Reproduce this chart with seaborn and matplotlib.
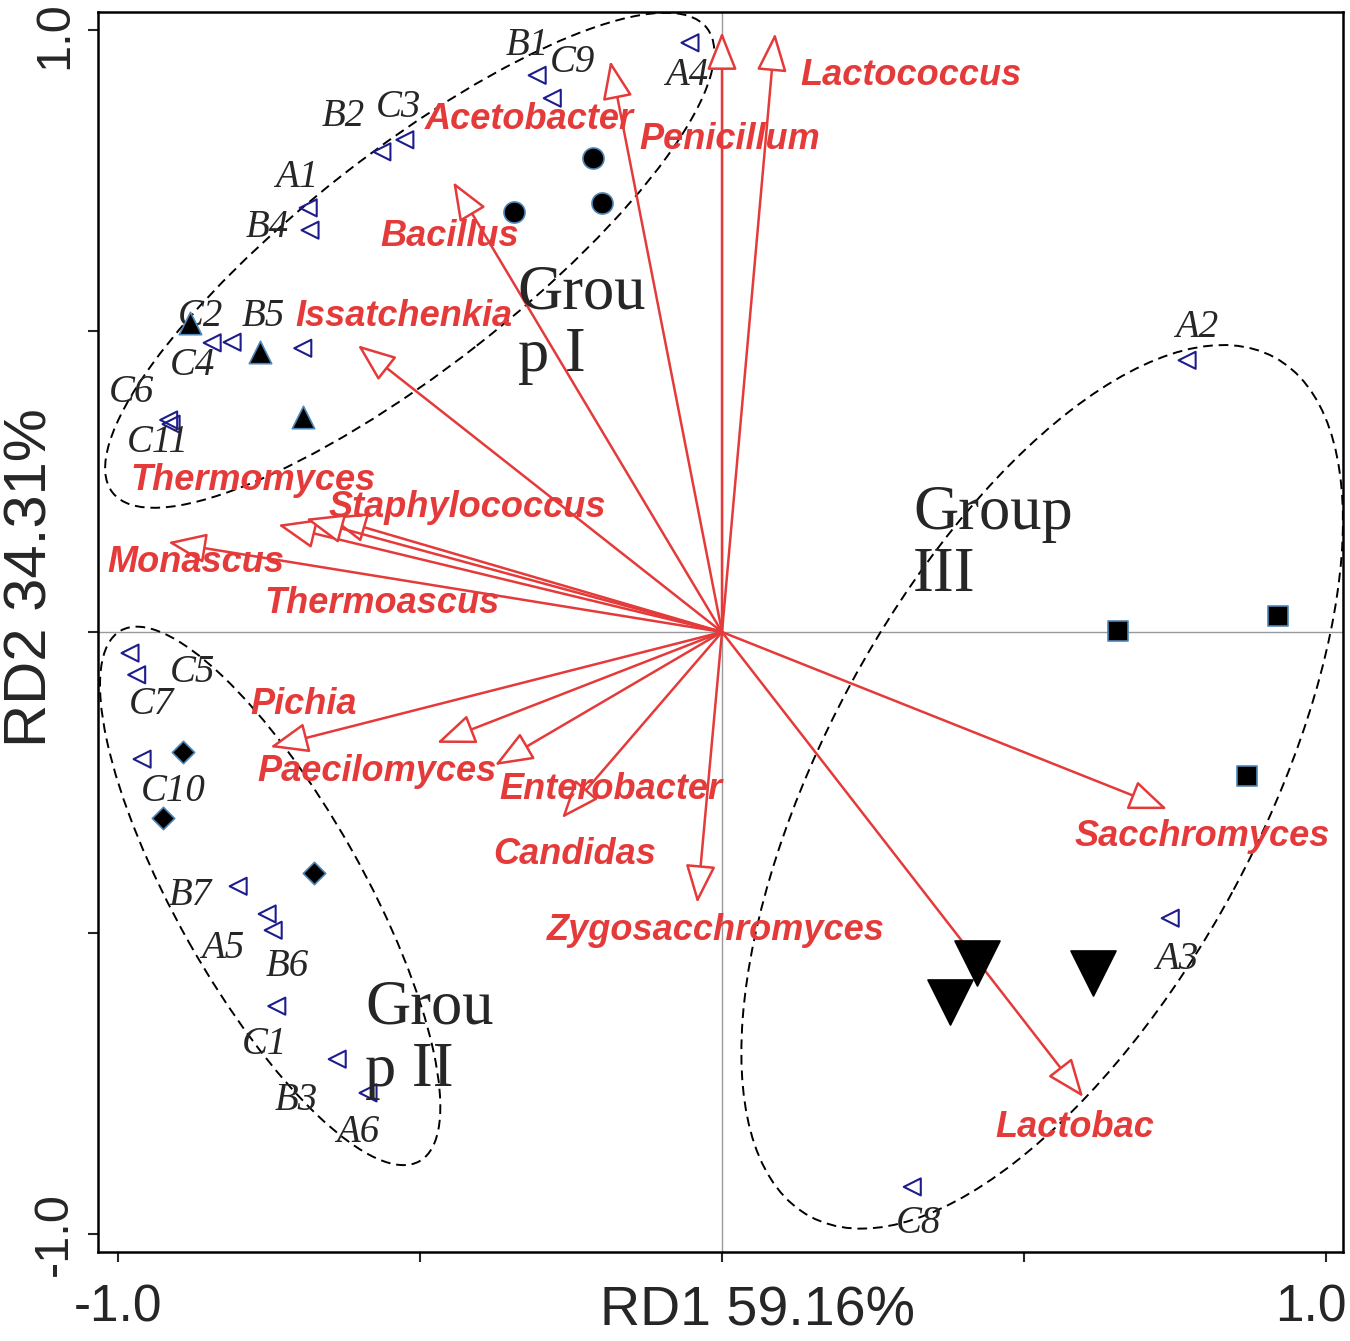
import matplotlib
matplotlib.use("Agg")
import matplotlib.pyplot as plt
import matplotlib.transforms as mtransforms
import seaborn as sns
from matplotlib.patches import Ellipse

# species vectors (RD1, RD2 of arrow tips) and label anchors
species = ["Lactococcus", "Penicillum", "Acetobacter", "Bacillus", "Issatchenkia",
           "Thermomyces", "Staphylococcus", "Thermoascus", "Monascus", "Pichia",
           "Paecilomyces", "Enterobacter", "Candidas", "Zygosacchromyces",
           "Sacchromyces", "Lactobac"]
sp_rd1 = [0.088, 0.0, -0.185, -0.445, -0.603, -0.735, -0.651, -0.689, -0.917,
          -0.748, -0.472, -0.376, -0.265, -0.041, 0.737, 0.598]
sp_rd2 = [0.994, 0.996, 0.948, 0.747, 0.476, 0.178, 0.191, 0.188, 0.149,
          -0.191, -0.184, -0.221, -0.309, -0.450, -0.294, -0.772]
sp_lab_x = [0.129, -0.136, -0.492, -0.566, -0.707, -0.980, -0.652, -0.757, -1.017,
            -0.781, -0.770, -0.368, -0.379, -0.290, 0.584, 0.452]
sp_lab_y = [0.924, 0.817, 0.850, 0.657, 0.524, 0.252, 0.206, 0.048, 0.116,
            -0.121, -0.231, -0.261, -0.370, -0.495, -0.339, -0.822]

# samples (open triangles)
samples = ["B1", "C9", "A4", "B2", "C3", "A1", "B4", "C2", "C4", "B5", "C6", "C11",
           "C5", "C7", "C10", "B7", "A5", "B6", "C1", "B3", "A6", "A2", "A3", "C8"]
smp_rd1 = [-0.306, -0.281, -0.053, -0.563, -0.525, -0.685, -0.682, -0.811, -0.844,
           -0.694, -0.916, -0.912, -0.980, -0.969, -0.960, -0.801, -0.753, -0.743,
           -0.737, -0.637, -0.586, 0.770, 0.742, 0.315]
smp_rd2 = [0.924, 0.886, 0.978, 0.797, 0.817, 0.704, 0.667, 0.481, 0.480,
           0.471, 0.352, 0.345, -0.035, -0.071, -0.211, -0.422, -0.468, -0.495,
           -0.621, -0.709, -0.765, 0.451, -0.475, -0.921]
smp_lab_x = [-0.323, -0.247, -0.058, -0.627, -0.536, -0.704, -0.753, -0.864, -0.876,
             -0.760, -0.977, -0.934, -0.876, -0.944, -0.909, -0.881, -0.826, -0.720,
             -0.757, -0.704, -0.603, 0.786, 0.753, 0.325]
smp_lab_y = [0.974, 0.946, 0.924, 0.855, 0.871, 0.755, 0.672, 0.523, 0.443,
             0.523, 0.397, 0.314, -0.068, -0.121, -0.264, -0.437, -0.526, -0.556,
             -0.684, -0.777, -0.830, 0.505, -0.544, -0.981]

# filled group markers
circ_rd1 = [-0.214, -0.199, -0.344]
circ_rd2 = [0.787, 0.712, 0.697]
tri_rd1 = [-0.881, -0.765, -0.694]
tri_rd2 = [0.513, 0.465, 0.357]
dia_rd1 = [-0.892, -0.925, -0.675]
dia_rd2 = [-0.199, -0.309, -0.400]
sq_rd1 = [0.656, 0.921, 0.869]
sq_rd2 = [0.002, 0.027, -0.239]
vtri_rd1 = [0.422, 0.377, 0.614]
vtri_rd2 = [-0.549, -0.614, -0.566]

# groups: label, label anchor, ellipse centre / width / height / angle
groups = ["Grou\np I", "Grou\np II", "Group\nIII"]
grp_lab_x = [-0.338, -0.591, 0.316]
grp_lab_y = [0.510, -0.677, 0.144]
ell_cx = [-0.517, -0.748, 0.530]
ell_cy = [0.617, -0.438, -0.257]
ell_w = [1.25, 1.01, 1.62]
ell_h = [0.36, 0.31, 0.72]
ell_ang = [38.1, -60.7, 61.7]

red = "#E53A3A"
navy = "#1C1C8C"

sns.set_style("ticks")
plt.rcParams["font.family"] = ["Liberation Sans", "DejaVu Sans"]

fig = plt.figure(figsize=(13.5, 13.41), dpi=100)
ax = fig.add_axes([0.0726, 0.0664, 0.9222, 0.9246])
ax.set_xlim(-1.033, 1.028)
ax.set_ylim(-1.029, 1.029)

ax.axhline(0, color="#999999", lw=1, zorder=0)
ax.axvline(0, color="#999999", lw=1, zorder=0)

# ellipses
for cx, cy, w, h, a in zip(ell_cx, ell_cy, ell_w, ell_h, ell_ang):
    ax.add_patch(Ellipse((cx, cy), w, h, angle=a, fill=False, ec="black",
                         lw=1.4, ls=(0, (5, 3)), zorder=1))

# species arrows
for x, y in zip(sp_rd1, sp_rd2):
    ax.annotate("", xy=(x, y), xytext=(0, 0),
                arrowprops=dict(arrowstyle="-|>,head_length=2.4,head_width=0.95",
                                mutation_scale=10, color=red, fc="white",
                                lw=1.8, shrinkA=0, shrinkB=0),
                zorder=3)
for name, x, y in zip(species, sp_lab_x, sp_lab_y):
    ax.text(x, y, name, color=red, fontsize=26, fontweight="bold",
            fontstyle="italic", ha="left", va="center", zorder=4)

# samples
sns.scatterplot(x=smp_rd1, y=smp_rd2, ax=ax, marker="<", s=150,
                facecolors="none", edgecolor=navy, linewidth=1.5, zorder=5)
for name, x, y in zip(samples, smp_lab_x, smp_lab_y):
    ax.text(x, y, name, fontsize=28, fontstyle="italic", family="Liberation Serif",
            ha="center", va="center", zorder=5)

filled = [(circ_rd1, circ_rd2, "o", 230), (tri_rd1, tri_rd2, "^", 260),
          (dia_rd1, dia_rd2, "D", 130), (sq_rd1, sq_rd2, "s", 200),
          (vtri_rd1, vtri_rd2, "v", 1050)]
for xs, ys, m, s in filled:
    sns.scatterplot(x=xs, y=ys, ax=ax, marker=m, s=s, color="black",
                    edgecolor="#4F86B8" if m != "v" else "black",
                    linewidth=1.2, zorder=6)

for name, x, y in zip(groups, grp_lab_x, grp_lab_y):
    ax.text(x, y, name, fontsize=45, family="Liberation Serif", ha="left",
            va="center", linespacing=1.1, zorder=7)

# axes styling
ax.set_xticks([-1.0, -0.5, 0.0, 0.5, 1.0])
ax.set_xticklabels(["-1.0", "", "", "", "1.0"])
ax.set_yticks([-1.0, -0.5, 0.0, 0.5, 1.0])
ax.set_yticklabels(["-1.0", "", "", "", "1.0"], rotation=90, va="center")
ax.tick_params(axis="x", direction="out", length=7, width=1.5, labelsize=37, pad=16)
ax.tick_params(axis="y", direction="out", length=7, width=1.5, labelsize=35, pad=8)
for sp in ax.spines.values():
    sp.set_linewidth(1.8)
    sp.set_color("black")

# nudge the outer tick labels inside the canvas, as in the original
xlabs = ax.get_xticklabels()
xlabs[-1].set_transform(xlabs[-1].get_transform() +
                        mtransforms.ScaledTranslation(-0.15, 0, fig.dpi_scale_trans))
ylabs = ax.get_yticklabels()
ylabs[-1].set_transform(ylabs[-1].get_transform() +
                        mtransforms.ScaledTranslation(0, -0.06, fig.dpi_scale_trans))

ax.set_xlabel("RD1 59.16%", fontsize=40)
ax.set_ylabel("RD2 34.31%", fontsize=43)
ax.xaxis.set_label_coords(0.530, -0.027)
ax.yaxis.set_label_coords(-0.032, 0.544)

fig.savefig("out.png", dpi=100)
